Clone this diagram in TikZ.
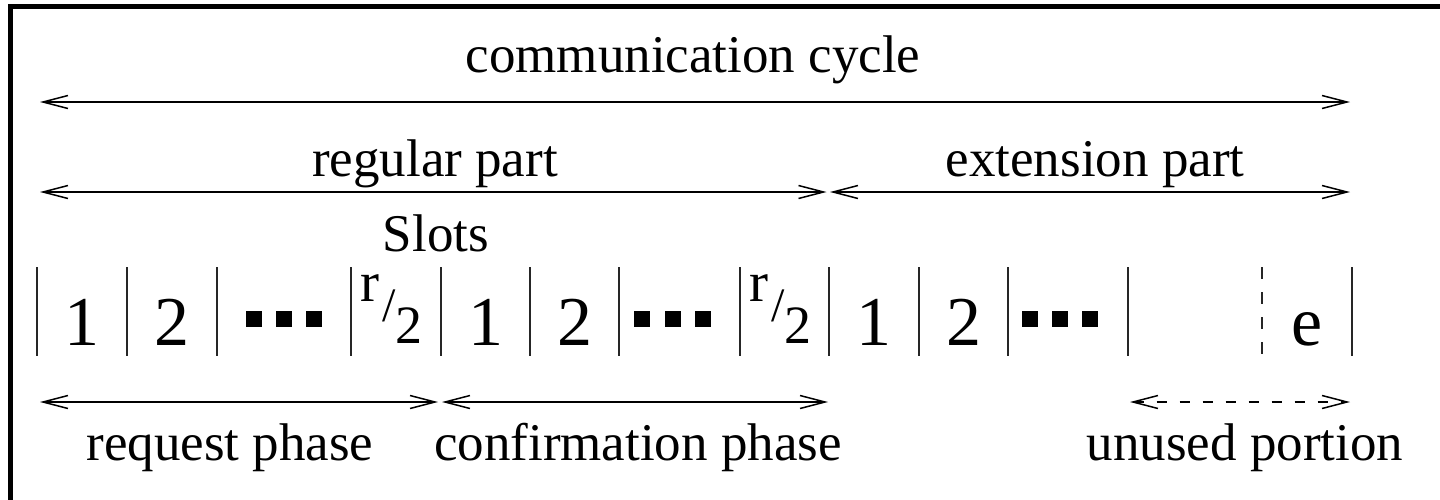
\documentclass[tikz,border=0pt]{standalone}
\usepackage{fontspec}
\setmainfont{Liberation Serif}
\usetikzlibrary{arrows.meta}

\tikzset{
  lbl/.style={font=\fontsize{53}{60}\selectfont, inner sep=0pt, anchor=base},
  num/.style={font=\fontsize{70}{80}\selectfont, inner sep=0pt, anchor=base},
  fracnum/.style={font=\fontsize{57}{60}\selectfont, inner sep=0pt, anchor=base},
  fracden/.style={font=\fontsize{54}{60}\selectfont, inner sep=0pt, anchor=base},
  slashtext/.style={font=\fontsize{48}{50}\selectfont, inner sep=0pt},
  span/.style={line width=1.5pt, {Straight Barb[length=25pt,width=13pt,line width=1.5pt]}-{Straight Barb[length=25pt,width=13pt,line width=1.5pt]}},
  dspan/.style={span, dash pattern=on 10pt off 13pt},
  sep/.style={line width=2pt, draw=black!85},
  dsep/.style={sep, dash pattern=on 12pt off 13pt},
  blk/.style={fill=black, minimum width=16pt, minimum height=16pt, inner sep=0pt},
  frame/.style={line width=4.5pt}
}

\begin{document}
\begin{tikzpicture}[x=1pt,y=-1pt]
\useasboundingbox (0,0) rectangle (1440,499);
\clip (0,0) rectangle (1440,499);

% outer frame (runs past the right and bottom edges)
\draw[frame] (10.5,6.5) rectangle (1600,700);

% whole cycle
\coordinate (cycL) at (40,102);
\coordinate (cycR) at (1350,102);
\draw[span] (cycL) -- (cycR);
\node[lbl] (cyc) at (693,72) {communication cycle};

% regular and extension parts
\coordinate (regL) at (40,192);
\coordinate (regR) at (826.5,192);
\coordinate (extL) at (830,192);
\coordinate (extR) at (1350,192);
\draw[span] (regL) -- (regR);
\draw[span] (extL) -- (extR);
\node[lbl] (reg) at (435,176) {regular part};
\node[lbl] (ext) at (1095,176) {extension part};

\node[lbl] (slots) at (436,251) {Slots};

% slot separators
\foreach \x in {37,127,217,351,441,530,619,740,829,919,1008,1128,1352}
  \draw[sep] (\x,267) -- (\x,356);
\draw[dsep] (1262,267) -- (1262,356);

% slot numbers
\node[num] (a1) at (82,345) {1};
\node[num] (a2) at (172,345) {2};
\node[num] (b1) at (485.5,345) {1};
\node[num] (b2) at (575,345) {2};
\node[num] (c1) at (874,345) {1};
\node[num] (c2) at (964,345) {2};
\node[num] (ce) at (1307,345) {e};

% r/2 slots
\node[fracnum] (ar) at (370,301) {r};
\node[slashtext] (as) at (389,306) {/};
\node[fracden] (a2b) at (409,343) {2};
\node[fracnum] (br) at (759,301) {r};
\node[slashtext] (bs) at (778,306) {/};
\node[fracden] (b2b) at (798,343) {2};

% ellipsis blocks
\foreach \x in {254,284,314,642,673,703,1030,1060,1090}
  \node[blk] at (\x,319) {};

% phases
\coordinate (reqL) at (40,402);
\coordinate (reqR) at (438,402);
\coordinate (conL) at (442,402);
\coordinate (conR) at (828,402);
\coordinate (unuL) at (1130,402);
\coordinate (unuR) at (1350,402);
\draw[span] (reqL) -- (reqR);
\draw[span] (conL) -- (conR);
\draw[dspan] (unuL) -- (unuR);
\node[lbl] (req) at (230,460) {request phase};
\node[lbl] (con) at (638,460) {confirmation phase};
\node[lbl] (unu) at (1245,460) {unused portion};
\end{tikzpicture}
\end{document}
